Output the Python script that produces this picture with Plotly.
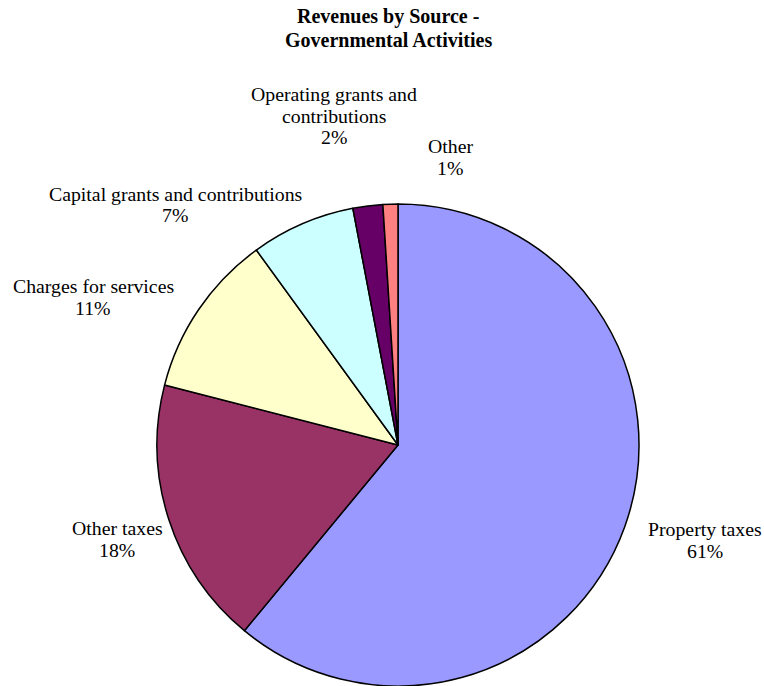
import plotly.graph_objects as go

# Revenue sources, governmental activities (percent of total)
sources = [
    "Property taxes",
    "Other taxes",
    "Charges for services",
    "Capital grants and contributions",
    "Operating grants and contributions",
    "Other",
]
shares = [61, 18, 11, 7, 2, 1]
colors = ["#9999FF", "#993366", "#FFFFCC", "#CCFFFF", "#660066", "#FF8080"]

# label lines for each category (long names wrapped)
label_lines = [
    ["Property taxes"],
    ["Other taxes"],
    ["Charges for services"],
    ["Capital grants and contributions"],
    ["Operating grants and", "contributions"],
    ["Other"],
]
# label anchor: centre x and first-line centre y, in pixels
label_xy = [
    (705, 529),
    (117, 528),
    (93, 286),
    (175, 194),
    (334, 94),
    (450, 146),
]
LINE_STEP = 21.5

W, H = 764, 686
cx, cy, r = 398, 445, 241

fig = go.Figure(
    go.Pie(
        labels=sources,
        values=shares,
        sort=False,
        direction="clockwise",
        rotation=0,
        marker=dict(colors=colors, line=dict(color="black", width=1.5)),
        textinfo="none",
        hoverinfo="label+percent",
        showlegend=False,
        domain=dict(
            x=[(cx - r) / W, (cx + r) / W],
            y=[max(0, 1 - (cy + r) / H), 1 - (cy - r) / H],
        ),
    )
)

total = sum(shares)
font = dict(family="Liberation Serif, Times New Roman, serif", size=19.8, color="black")
for lines, val, (px, py) in zip(label_lines, shares, label_xy):
    rows = lines + [f"{round(100 * val / total)}%"]
    for i, row in enumerate(rows):
        fig.add_annotation(
            x=px / W, y=1 - (py + i * LINE_STEP) / H, xref="paper", yref="paper",
            text=row, showarrow=False, xanchor="center", yanchor="middle",
            font=font, align="center",
        )

title_lines = ["Revenues by Source -", "Governmental Activities"]
for i, row in enumerate(title_lines):
    fig.add_annotation(
        x=388 / W, y=1 - (17 + i * 23) / H, xref="paper", yref="paper",
        text=f"<b>{row}</b>", showarrow=False, xanchor="center", yanchor="middle",
        font=dict(family="Liberation Serif, Times New Roman, serif", size=20, color="black"),
    )

fig.update_layout(
    width=W, height=H,
    margin=dict(l=0, r=0, t=0, b=0),
    paper_bgcolor="white", plot_bgcolor="white",
)

fig.write_html("out.html")
